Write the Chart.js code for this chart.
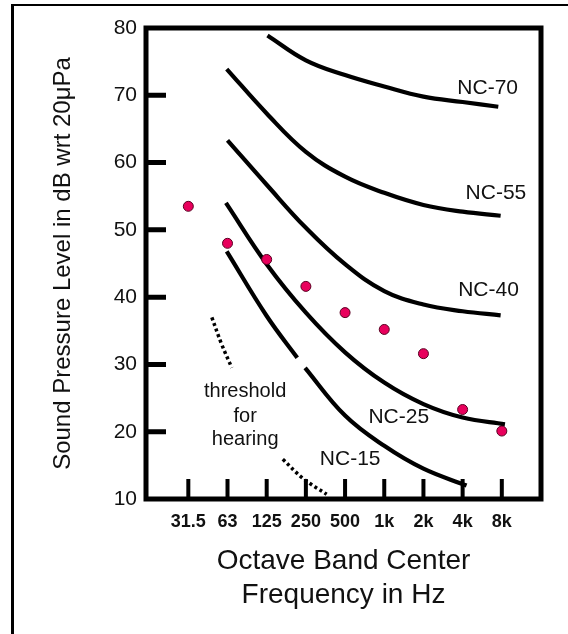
<!DOCTYPE html>
<html>
<head>
<meta charset="utf-8">
<script src="https://cdn.jsdelivr.net/npm/chart.js@4"></script>
<style>
  html, body { margin: 0; padding: 0; background: #fff; }
  canvas { display: block; }
</style>
</head>
<body>
<canvas id="ncChart" width="568" height="634"></canvas>
<script>
// octave bands (x axis categories, placed at index 0..8)
const bandLabels = ['31.5', '63', '125', '250', '500', '1k', '2k', '4k', '8k'];
const bandIndex = [0, 1, 2, 3, 4, 5, 6, 7, 8];

// measured spectrum (dots)
const measured = [53.5, 48.0, 45.6, 41.6, 37.7, 35.2, 31.6, 23.3, 20.1];

// NC curves (x = band index)
const nc70X = [2.02, 3, 4, 5, 6, 7, 7.91];
const nc70Y = [78.9, 75.2, 73.0, 71.3, 69.8, 69.0, 68.3];
const nc55X = [0.98, 2, 3, 4, 5, 6, 7, 7.97];
const nc55Y = [73.9, 67.3, 61.6, 57.9, 55.5, 53.7, 52.7, 52.1];
const nc40X = [1.0, 2, 3, 4, 5, 6, 7, 7.97];
const nc40Y = [63.3, 56.7, 50.3, 44.9, 40.9, 38.9, 37.9, 37.3];
const nc25X = [0.96, 2, 3, 4, 5, 6, 7, 8.08];
const nc25Y = [54.0, 44.9, 37.7, 31.8, 27.3, 24.1, 22.1, 21.1];
const nc15X = [0.98, 2, 2.78, 2.98, 4, 5, 6, 7.1];
const nc15Y = [46.8, 37.2, 31.0, 29.5, 22.4, 17.9, 14.5, 12.0];

// threshold of hearing (dotted, broken where the label sits)
const thrX = [0.6, 0.85, 1.11, 1.8, 2.41, 2.94, 3.53];
const thrY = [37.0, 33.0, 29.5, null, 15.9, 13.0, 10.7];

// y axis
const yTickMarks = [20, 30, 40, 50, 60, 70];

// curve labels
const ncLabels = ['NC-70', 'NC-55', 'NC-40', 'NC-25', 'NC-15'];
const ncLabelX = [7.64, 7.85, 7.66, 5.37, 4.13];
const ncLabelY = [71.1, 55.5, 41.1, 22.1, 15.9];
const thrLabel = ['threshold', 'for', 'hearing'];
const thrLabelX = 1.45;
const thrLabelY = [25.95, 22.2, 18.8];

const FONT = "'Liberation Sans', Arial, sans-serif";
const INK = '#111';

function toPoints(xs, ys) {
    return xs.map((x, i) => ({ x: x, y: ys[i] }));
}

function curve(label, xs, ys, extra) {
    return Object.assign({
        label: label,
        data: toPoints(xs, ys),
        showLine: true,
        borderColor: '#000',
        borderWidth: 4.2,
        pointRadius: 0,
        tension: 0.4,
        fill: false
    }, extra || {});
}

// frame, inward tick marks, border of page, text annotations
const decorations = {
    id: 'decorations',
    beforeDraw(chart) {
        const ctx = chart.ctx;
        ctx.save();
        ctx.fillStyle = '#000';
        ctx.fillRect(11, 4, 3, 630);
        ctx.fillRect(11, 4, 557, 2);
        ctx.restore();
    },
    afterDatasetsDraw(chart) {
        const { ctx, chartArea: a, scales: { x, y } } = chart;
        ctx.save();
        ctx.strokeStyle = '#000';
        ctx.lineCap = 'butt';

        ctx.lineWidth = 5;
        ctx.strokeRect(a.left, a.top, a.right - a.left, a.bottom - a.top);

        ctx.beginPath();
        yTickMarks.forEach(v => {
            const py = y.getPixelForValue(v);
            ctx.moveTo(a.left, py);
            ctx.lineTo(a.left + 20, py);
        });
        ctx.stroke();

        ctx.lineWidth = 4;
        ctx.beginPath();
        bandIndex.forEach(i => {
            const px = x.getPixelForValue(i);
            ctx.moveTo(px, a.bottom);
            ctx.lineTo(px, a.bottom - 20);
        });
        ctx.stroke();

        ctx.fillStyle = INK;
        ctx.textAlign = 'center';
        ctx.textBaseline = 'middle';
        ctx.font = '21px ' + FONT;
        ncLabels.forEach((t, i) => {
            ctx.fillText(t, x.getPixelForValue(ncLabelX[i]), y.getPixelForValue(ncLabelY[i]));
        });
        ctx.font = '20px ' + FONT;
        thrLabel.forEach((t, i) => {
            ctx.fillText(t, x.getPixelForValue(thrLabelX), y.getPixelForValue(thrLabelY[i]));
        });
        ctx.restore();
    }
};

const ctx = document.getElementById('ncChart').getContext('2d');

new Chart(ctx, {
    type: 'scatter',
    data: {
        datasets: [
            {
                label: 'measured',
                data: toPoints(bandIndex, measured),
                showLine: false,
                pointRadius: 5,
                pointBackgroundColor: '#E8005C',
                pointBorderColor: '#5a0022',
                pointBorderWidth: 1
            },
            curve('NC-70', nc70X, nc70Y),
            curve('NC-55', nc55X, nc55Y),
            curve('NC-40', nc40X, nc40Y),
            curve('NC-25', nc25X, nc25Y),
            curve('NC-15', nc15X, nc15Y, {
                segment: {
                    borderColor: c => c.p0DataIndex === 2 ? 'rgba(0,0,0,0)' : undefined
                }
            }),
            curve('threshold', thrX, thrY, {
                borderWidth: 3.5,
                borderDash: [3, 3],
                spanGaps: false
            })
        ]
    },
    options: {
        responsive: false,
        animation: false,
        layout: {
            padding: { top: 28, right: 27, bottom: 0, left: 0 }
        },
        plugins: {
            legend: { display: false },
            tooltip: { enabled: false }
        },
        scales: {
            x: {
                type: 'linear',
                min: -1.08,
                max: 9.0,
                grid: { display: false, drawTicks: false },
                border: { display: false },
                afterBuildTicks: scale => {
                    scale.ticks = bandIndex.map(v => ({ value: v }));
                },
                afterFit: scale => {
                    scale.height = 135;
                },
                ticks: {
                    autoSkip: false,
                    maxRotation: 0,
                    padding: 12,
                    color: INK,
                    font: { family: FONT, size: 18, weight: 'bold' },
                    callback: (value, index) => bandLabels[index]
                },
                title: {
                    display: true,
                    text: ['Octave Band Center', 'Frequency in Hz'],
                    color: INK,
                    font: { family: FONT, size: 28, lineHeight: 1.2 },
                    padding: { top: 0, bottom: 22 }
                }
            },
            y: {
                min: 10,
                max: 80,
                grid: { display: false, drawTicks: false },
                border: { display: false },
                afterFit: scale => {
                    scale.width = 146;
                },
                ticks: {
                    stepSize: 10,
                    padding: 9,
                    color: INK,
                    font: { family: FONT, size: 21 }
                },
                title: {
                    display: true,
                    text: 'Sound Pressure Level in dB wrt 20\u03bcPa',
                    color: INK,
                    font: { family: FONT, size: 24 },
                    padding: { top: 49, bottom: 0 }
                }
            }
        }
    },
    plugins: [decorations]
});
</script>
</body>
</html>
